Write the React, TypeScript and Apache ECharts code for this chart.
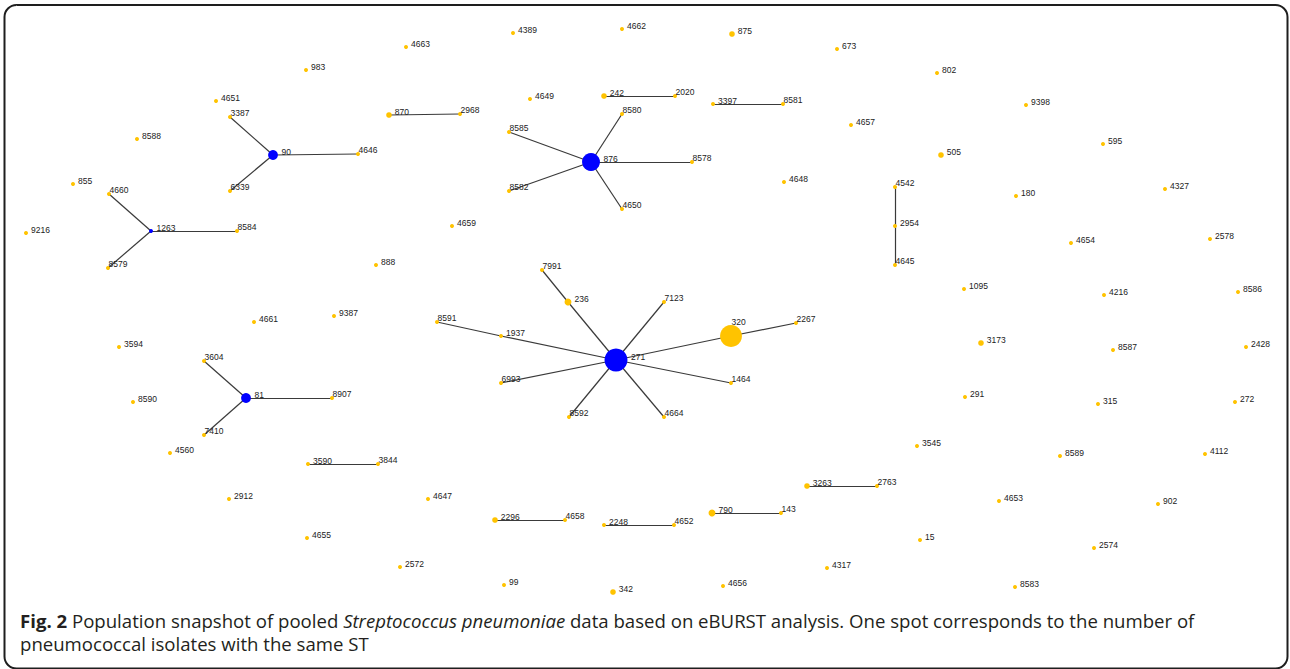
import React, { useEffect, useRef } from "react";
import * as echarts from "echarts";

const W = 1290;
const H = 669;

// Founders of the clonal complexes (drawn blue)
const founders = ["271", "876", "90", "81", "1263"];

// Sequence types: [ST, x, y, number of isolates]
const clusterNodes: [string, number, number, number][] = [
  ["90", 273, 155, 6], ["3387", 230, 117, 1], ["6339", 230, 191, 1], ["4646", 358, 154, 1],
  ["1263", 151, 231, 1], ["4660", 109, 194, 1], ["8579", 108, 268, 1], ["8584", 237, 231, 1],
  ["870", 389, 115, 2], ["2968", 460, 114, 1],
  ["876", 591, 162, 20], ["8580", 622, 114, 1], ["8585", 509, 132, 1], ["8582", 509, 191, 1],
  ["8578", 692, 162, 1], ["4650", 622, 209, 1],
  ["242", 604, 96, 2], ["2020", 675, 96, 1],
  ["3397", 713, 104, 1], ["8581", 783, 104, 1],
  ["4542", 895, 187, 1], ["2954", 895, 226, 1], ["4645", 895, 265, 1],
  ["271", 616, 360, 33], ["7991", 542, 270, 1], ["236", 568, 302, 3], ["7123", 664, 302, 1],
  ["8591", 437, 322, 1], ["1937", 501, 336, 1], ["320", 731, 336, 30], ["2267", 796, 323, 1],
  ["6993", 501, 383, 1], ["1464", 731, 383, 1], ["8592", 569, 417, 1], ["4664", 664, 417, 1],
  ["81", 246, 398, 6], ["3604", 204, 361, 1], ["7410", 204, 435, 1], ["8907", 332, 398, 1],
  ["3590", 308, 464, 1], ["3844", 378, 464, 1],
  ["2296", 495, 520, 2], ["4658", 565, 520, 1],
  ["2248", 604, 525, 1], ["4652", 674, 525, 1],
  ["790", 712, 513, 3], ["143", 781, 513, 1],
  ["3263", 807, 486, 2], ["2763", 877, 486, 1],
];

const singletonNodes: [string, number, number, number][] = [
  ["4663", 406, 47, 1], ["983", 306, 70, 1], ["4651", 216, 101, 1], ["8588", 137, 139, 1],
  ["855", 73, 184, 1], ["4389", 513, 33, 1], ["4662", 622, 29, 1], ["875", 732, 34, 2],
  ["673", 837, 49, 1], ["4649", 530, 99, 1], ["4657", 851, 125, 1], ["802", 937, 73, 1],
  ["9398", 1026, 105, 1], ["595", 1103, 144, 1], ["505", 941, 155, 2], ["4648", 784, 182, 1],
  ["180", 1016, 196, 1], ["4327", 1165, 189, 1], ["9216", 26, 233, 1], ["888", 376, 265, 1],
  ["4661", 254, 322, 1], ["9387", 334, 316, 1], ["3594", 119, 347, 1], ["8590", 133, 402, 1],
  ["4659", 452, 226, 1], ["4654", 1071, 243, 1], ["2578", 1210, 239, 1], ["1095", 964, 289, 1],
  ["4216", 1104, 295, 1], ["8586", 1238, 292, 1], ["3173", 981, 343, 2], ["8587", 1113, 350, 1],
  ["2428", 1246, 347, 1], ["291", 965, 397, 1], ["315", 1098, 404, 1], ["272", 1235, 402, 1],
  ["4560", 170, 453, 1], ["2912", 229, 499, 1], ["4647", 428, 499, 1], ["4655", 307, 538, 1],
  ["2572", 400, 567, 1], ["4317", 827, 568, 1], ["99", 504, 585, 1], ["342", 613, 592, 2],
  ["4656", 723, 586, 1], ["3545", 917, 446, 1], ["8589", 1060, 456, 1], ["4112", 1205, 454, 1],
  ["4653", 999, 501, 1], ["902", 1158, 504, 1], ["15", 920, 540, 1], ["2574", 1094, 548, 1],
  ["8583", 1015, 587, 1],
];

// Single-locus variant links
const links: [string, string][] = [
  ["90", "3387"], ["90", "6339"], ["90", "4646"],
  ["1263", "4660"], ["1263", "8579"], ["1263", "8584"],
  ["870", "2968"],
  ["876", "8580"], ["876", "8585"], ["876", "8582"], ["876", "8578"], ["876", "4650"],
  ["242", "2020"], ["3397", "8581"],
  ["4542", "2954"], ["2954", "4645"],
  ["271", "236"], ["236", "7991"], ["271", "7123"], ["271", "320"], ["320", "2267"],
  ["271", "1937"], ["1937", "8591"], ["271", "6993"], ["271", "1464"], ["271", "8592"], ["271", "4664"],
  ["81", "3604"], ["81", "7410"], ["81", "8907"],
  ["3590", "3844"], ["2296", "4658"], ["2248", "4652"], ["790", "143"], ["3263", "2763"],
];

const captionBold = "Fig. 2";
const captionLine1a = " Population snapshot of pooled ";
const captionItalic = "Streptococcus pneumoniae";
const captionLine1b = " data based on eBURST analysis. One spot corresponds to the number of";
const captionLine2 = "pneumococcal isolates with the same ST";

const YELLOW = "#FFC300";
const BLUE = "#0000FF";
const LABEL_FONT = "'Liberation Sans', Arial, sans-serif";
const CAPTION_FONT = "'Open Sans', sans-serif";
const CAPTION_SIZE = 18.6;
const CAPTION_LH = 23;

export default function App() {
  const ref = useRef<HTMLDivElement>(null);

  useEffect(() => {
    const chart = echarts.init(ref.current!, null, { renderer: "svg" });
    const allNodes = [...clusterNodes, ...singletonNodes];
    const nb: Record<string, string[]> = {};
    const pos: Record<string, [number, number]> = {};
    allNodes.forEach((n) => {
      nb[n[0]] = [];
      pos[n[0]] = [n[1], n[2]];
    });
    links.forEach(([a, b]) => {
      nb[a].push(b);
      nb[b].push(a);
    });

    const sizeOf = (c: number) => 4 * Math.sqrt(c);

    const data = allNodes.map(([name, x, y, c]) => {
      const s = sizeOf(c);
      const r = s / 2;
      const isFounder = founders.includes(name);
      const ns = nb[name];
      let lx = s / 2 + r + 3;
      let ly = s / 2 - 3;
      if (!isFounder && c >= 10) {
        lx = s / 2 + 0.5;
        ly = -3;
      } else if (!isFounder && ns.length === 1) {
        const o = ns[0];
        const leftOfPair = nb[o].length === 1 && pos[o][0] > x;
        if (!leftOfPair) {
          lx = s / 2 + 0.5;
          ly = s / 2 - 4;
        }
      } else if (isFounder) {
        lx = s / 2 + r + 3.5;
        ly = s / 2 - 3;
      }
      return {
        name,
        value: [x, y],
        symbolSize: s,
        itemStyle: { color: isFounder ? BLUE : YELLOW },
        label: {
          show: true,
          position: [lx, ly],
          align: "left",
          verticalAlign: "middle",
        },
      };
    });

    chart.setOption({
      animation: false,
      backgroundColor: "#ffffff",
      grid: { left: 0, right: 0, top: 0, bottom: 0, containLabel: false },
      xAxis: { type: "value", min: 0, max: W, show: false },
      yAxis: { type: "value", min: 0, max: H, inverse: true, show: false },
      graphic: [
        {
          type: "rect",
          shape: { x: 4.5, y: 5, width: 1283, height: 663.5, r: 12 },
          style: { fill: "none", stroke: "#1e1e1e", lineWidth: 2 },
          silent: true,
        },
        {
          type: "text",
          left: 20,
          top: 609,
          silent: true,
          style: {
            text:
              "{b|" + captionBold + "}" + captionLine1a + "{i|" + captionItalic + "}" + captionLine1b +
              "\n" + captionLine2,
            fontFamily: CAPTION_FONT,
            fontSize: CAPTION_SIZE,
            lineHeight: CAPTION_LH,
            fill: "#231f20",
            rich: {
              b: { fontWeight: "bold", fontFamily: CAPTION_FONT, fontSize: CAPTION_SIZE, lineHeight: CAPTION_LH, fill: "#231f20" },
              i: { fontStyle: "italic", fontFamily: CAPTION_FONT, fontSize: CAPTION_SIZE, lineHeight: CAPTION_LH, fill: "#231f20" },
            },
          },
        },
      ],
      series: [
        {
          type: "graph",
          coordinateSystem: "cartesian2d",
          layout: "none",
          roam: false,
          symbol: "circle",
          data,
          links: links.map(([source, target]) => ({ source, target })),
          lineStyle: { color: "#3a3a3a", width: 1.2, opacity: 1, curveness: 0 },
          label: {
            show: true,
            formatter: "{b}",
            fontSize: 8.5,
            fontFamily: LABEL_FONT,
            color: "#222222",
          },
          emphasis: { disabled: true },
        },
      ],
    });

    return () => chart.dispose();
  }, []);

  return (
    <div
      ref={ref}
      style={{ position: "absolute", left: 0, top: 0, width: W, height: H }}
    />
  );
}
